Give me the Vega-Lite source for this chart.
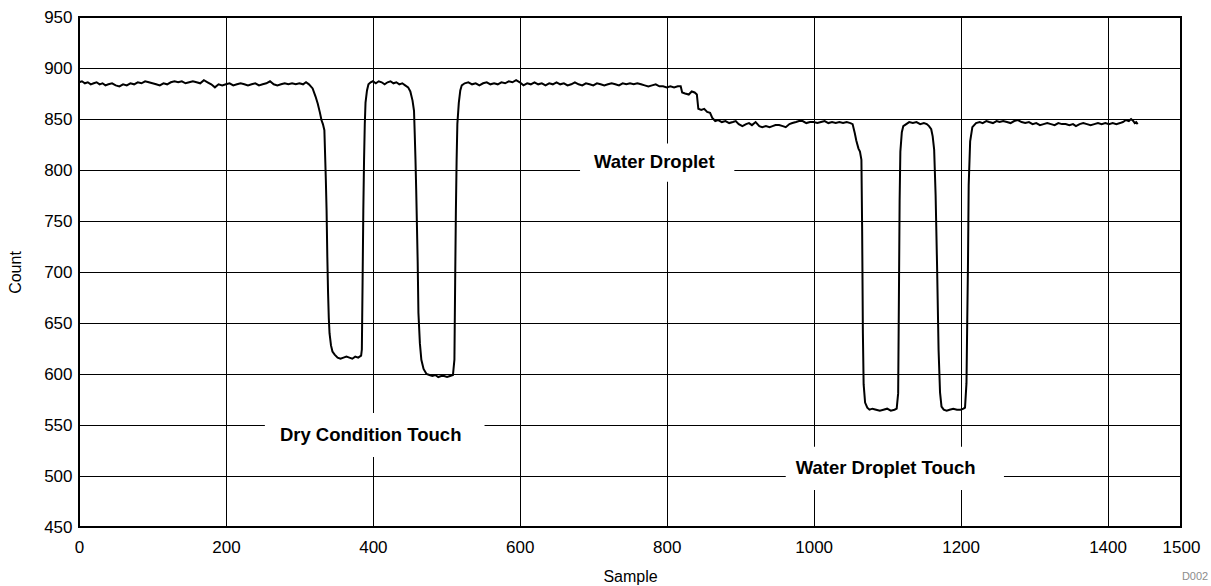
{
  "$schema": "https://vega.github.io/schema/vega-lite/v6.json",
  "width": 1102,
  "height": 510,
  "autosize": {"type": "none"},
  "padding": {"left": 79, "top": 17, "right": 30, "bottom": 59},
  "background": "#ffffff",
  "config": {
    "font": "Liberation Sans",
    "view": {"stroke": "#000000", "strokeWidth": 2},
    "axis": {
      "grid": true, "gridColor": "#000000", "gridOpacity": 1, "gridWidth": 1,
      "domain": false, "ticks": false,
      "labelColor": "#000000", "titleColor": "#000000",
      "labelFont": "Liberation Sans", "titleFont": "Liberation Sans",
      "labelFontSize": 17, "titleFontSize": 16, "titleFontWeight": "normal",
      "labelFlush": false, "labelOverlap": false
    },
    "axisX": {"labelPadding": 12, "titlePadding": 13},
    "axisY": {"labelPadding": 7, "titlePadding": 20}
  },
  "datasets": {
    "series": [
      {"sample":0,"count":886},{"sample":4,"count":887},{"sample":8,"count":885},{"sample":12,"count":886},{"sample":16,"count":884},{"sample":20,"count":885},{"sample":24,"count":886},{"sample":28,"count":884},{"sample":32,"count":885},{"sample":36,"count":883},{"sample":40,"count":884},{"sample":45,"count":885},{"sample":50,"count":883},{"sample":55,"count":882},{"sample":60,"count":884},{"sample":65,"count":883},{"sample":70,"count":885},{"sample":75,"count":884},{"sample":80,"count":886},{"sample":85,"count":885},{"sample":90,"count":887},{"sample":95,"count":886},{"sample":100,"count":885},{"sample":105,"count":884},{"sample":110,"count":883},{"sample":115,"count":885},{"sample":120,"count":884},{"sample":125,"count":886},{"sample":130,"count":887},{"sample":135,"count":886},{"sample":140,"count":887},{"sample":145,"count":885},{"sample":150,"count":886},{"sample":155,"count":887},{"sample":160,"count":886},{"sample":165,"count":885},{"sample":170,"count":888},{"sample":175,"count":886},{"sample":180,"count":884},{"sample":185,"count":881},{"sample":190,"count":884},{"sample":195,"count":883},{"sample":200,"count":884},{"sample":205,"count":885},{"sample":210,"count":883},{"sample":215,"count":884},{"sample":220,"count":885},{"sample":225,"count":884},{"sample":230,"count":883},{"sample":235,"count":884},{"sample":240,"count":885},{"sample":245,"count":883},{"sample":250,"count":884},{"sample":255,"count":885},{"sample":260,"count":887},{"sample":265,"count":884},{"sample":270,"count":883},{"sample":275,"count":884},{"sample":280,"count":885},{"sample":285,"count":884},{"sample":290,"count":885},{"sample":295,"count":884},{"sample":300,"count":885},{"sample":305,"count":884},{"sample":309,"count":886},{"sample":313,"count":884},{"sample":318,"count":880},{"sample":322,"count":872},{"sample":325,"count":865},{"sample":328,"count":856},{"sample":330,"count":849},{"sample":332,"count":845},{"sample":334,"count":839},{"sample":336,"count":790},{"sample":337,"count":760},{"sample":338,"count":715},{"sample":339,"count":680},{"sample":340,"count":655},{"sample":341,"count":640},{"sample":343,"count":628},{"sample":345,"count":622},{"sample":348,"count":619},{"sample":352,"count":616},{"sample":356,"count":615},{"sample":360,"count":616},{"sample":364,"count":617},{"sample":368,"count":616},{"sample":372,"count":615},{"sample":376,"count":617},{"sample":380,"count":616},{"sample":384,"count":618},{"sample":385,"count":624},{"sample":386,"count":690},{"sample":387,"count":760},{"sample":388,"count":810},{"sample":389,"count":845},{"sample":390,"count":866},{"sample":392,"count":878},{"sample":394,"count":884},{"sample":397,"count":886},{"sample":400,"count":887},{"sample":404,"count":885},{"sample":408,"count":887},{"sample":412,"count":886},{"sample":416,"count":884},{"sample":420,"count":886},{"sample":424,"count":887},{"sample":428,"count":885},{"sample":432,"count":886},{"sample":436,"count":884},{"sample":440,"count":885},{"sample":444,"count":883},{"sample":448,"count":881},{"sample":451,"count":877},{"sample":454,"count":868},{"sample":456,"count":858},{"sample":457,"count":835},{"sample":458,"count":810},{"sample":459,"count":780},{"sample":460,"count":745},{"sample":461,"count":710},{"sample":462,"count":660},{"sample":464,"count":630},{"sample":466,"count":614},{"sample":469,"count":605},{"sample":473,"count":600},{"sample":477,"count":599},{"sample":481,"count":598},{"sample":485,"count":599},{"sample":489,"count":597},{"sample":493,"count":598},{"sample":497,"count":598},{"sample":501,"count":597},{"sample":505,"count":598},{"sample":509,"count":599},{"sample":511,"count":614},{"sample":512,"count":690},{"sample":513,"count":760},{"sample":514,"count":810},{"sample":515,"count":845},{"sample":517,"count":866},{"sample":519,"count":878},{"sample":521,"count":883},{"sample":525,"count":885},{"sample":530,"count":886},{"sample":535,"count":884},{"sample":540,"count":885},{"sample":545,"count":883},{"sample":550,"count":885},{"sample":555,"count":886},{"sample":560,"count":884},{"sample":565,"count":885},{"sample":570,"count":884},{"sample":575,"count":886},{"sample":580,"count":885},{"sample":585,"count":887},{"sample":590,"count":886},{"sample":595,"count":888},{"sample":600,"count":886},{"sample":605,"count":883},{"sample":610,"count":885},{"sample":615,"count":884},{"sample":620,"count":886},{"sample":625,"count":884},{"sample":630,"count":885},{"sample":635,"count":883},{"sample":640,"count":885},{"sample":645,"count":884},{"sample":650,"count":886},{"sample":655,"count":884},{"sample":660,"count":885},{"sample":665,"count":883},{"sample":670,"count":884},{"sample":675,"count":886},{"sample":680,"count":884},{"sample":685,"count":883},{"sample":690,"count":885},{"sample":695,"count":884},{"sample":700,"count":883},{"sample":705,"count":885},{"sample":710,"count":884},{"sample":715,"count":883},{"sample":720,"count":884},{"sample":725,"count":885},{"sample":730,"count":884},{"sample":735,"count":883},{"sample":740,"count":885},{"sample":745,"count":884},{"sample":750,"count":885},{"sample":755,"count":884},{"sample":760,"count":885},{"sample":765,"count":884},{"sample":770,"count":883},{"sample":775,"count":882},{"sample":780,"count":883},{"sample":785,"count":884},{"sample":790,"count":882},{"sample":795,"count":882},{"sample":800,"count":881},{"sample":805,"count":882},{"sample":810,"count":881},{"sample":815,"count":882},{"sample":819,"count":882},{"sample":821,"count":876},{"sample":825,"count":875},{"sample":830,"count":874},{"sample":834,"count":877},{"sample":838,"count":876},{"sample":841,"count":874},{"sample":843,"count":860},{"sample":847,"count":859},{"sample":851,"count":860},{"sample":855,"count":857},{"sample":859,"count":856},{"sample":862,"count":851},{"sample":866,"count":848},{"sample":870,"count":849},{"sample":875,"count":847},{"sample":880,"count":848},{"sample":885,"count":846},{"sample":890,"count":847},{"sample":894,"count":848},{"sample":898,"count":845},{"sample":903,"count":843},{"sample":908,"count":845},{"sample":912,"count":846},{"sample":916,"count":844},{"sample":921,"count":847},{"sample":926,"count":843},{"sample":930,"count":842},{"sample":935,"count":843},{"sample":940,"count":842},{"sample":944,"count":843},{"sample":948,"count":844},{"sample":953,"count":844},{"sample":958,"count":843},{"sample":962,"count":842},{"sample":967,"count":845},{"sample":971,"count":846},{"sample":976,"count":847},{"sample":980,"count":848},{"sample":985,"count":848},{"sample":990,"count":846},{"sample":995,"count":847},{"sample":1000,"count":847},{"sample":1005,"count":846},{"sample":1010,"count":847},{"sample":1015,"count":848},{"sample":1020,"count":846},{"sample":1025,"count":847},{"sample":1030,"count":846},{"sample":1035,"count":847},{"sample":1040,"count":846},{"sample":1045,"count":847},{"sample":1050,"count":846},{"sample":1053,"count":845},{"sample":1056,"count":836},{"sample":1058,"count":829},{"sample":1061,"count":821},{"sample":1063,"count":818},{"sample":1065,"count":810},{"sample":1066,"count":740},{"sample":1067,"count":640},{"sample":1068,"count":590},{"sample":1070,"count":572},{"sample":1073,"count":567},{"sample":1076,"count":565},{"sample":1080,"count":566},{"sample":1085,"count":565},{"sample":1090,"count":564},{"sample":1095,"count":565},{"sample":1100,"count":566},{"sample":1105,"count":564},{"sample":1110,"count":565},{"sample":1113,"count":566},{"sample":1115,"count":581},{"sample":1116,"count":672},{"sample":1117,"count":770},{"sample":1118,"count":818},{"sample":1120,"count":837},{"sample":1122,"count":843},{"sample":1126,"count":845},{"sample":1130,"count":847},{"sample":1135,"count":846},{"sample":1140,"count":847},{"sample":1145,"count":845},{"sample":1150,"count":846},{"sample":1154,"count":845},{"sample":1157,"count":843},{"sample":1160,"count":840},{"sample":1162,"count":833},{"sample":1164,"count":820},{"sample":1166,"count":775},{"sample":1168,"count":705},{"sample":1170,"count":624},{"sample":1172,"count":582},{"sample":1174,"count":568},{"sample":1177,"count":565},{"sample":1181,"count":564},{"sample":1185,"count":565},{"sample":1190,"count":566},{"sample":1195,"count":565},{"sample":1200,"count":565},{"sample":1204,"count":566},{"sample":1206,"count":567},{"sample":1208,"count":591},{"sample":1209,"count":650},{"sample":1210,"count":705},{"sample":1211,"count":785},{"sample":1213,"count":828},{"sample":1216,"count":842},{"sample":1221,"count":846},{"sample":1226,"count":847},{"sample":1230,"count":846},{"sample":1235,"count":848},{"sample":1239,"count":847},{"sample":1244,"count":846},{"sample":1249,"count":848},{"sample":1253,"count":847},{"sample":1258,"count":848},{"sample":1263,"count":847},{"sample":1268,"count":846},{"sample":1273,"count":848},{"sample":1278,"count":849},{"sample":1283,"count":847},{"sample":1288,"count":846},{"sample":1293,"count":847},{"sample":1298,"count":845},{"sample":1303,"count":846},{"sample":1308,"count":844},{"sample":1313,"count":845},{"sample":1318,"count":846},{"sample":1323,"count":845},{"sample":1328,"count":844},{"sample":1333,"count":846},{"sample":1338,"count":845},{"sample":1343,"count":845},{"sample":1348,"count":844},{"sample":1353,"count":845},{"sample":1357,"count":843},{"sample":1362,"count":845},{"sample":1367,"count":846},{"sample":1372,"count":845},{"sample":1377,"count":844},{"sample":1382,"count":845},{"sample":1387,"count":846},{"sample":1392,"count":845},{"sample":1397,"count":846},{"sample":1402,"count":845},{"sample":1407,"count":846},{"sample":1412,"count":845},{"sample":1417,"count":846},{"sample":1421,"count":847},{"sample":1425,"count":849},{"sample":1429,"count":848},{"sample":1432,"count":850},{"sample":1435,"count":848},{"sample":1437,"count":846},{"sample":1439,"count":847},{"sample":1441,"count":845}
    ],
    "notes": [
      {"label":"Dry Condition Touch","sample":397,"count":540,"x1":253,"x2":552,"y1":518.6,"y2":561.8},
      {"label":"Water Droplet","sample":783,"count":808,"x1":682,"x2":892,"y1":788.5,"y2":826},
      {"label":"Water Droplet Touch","sample":1098,"count":508,"x1":962,"x2":1259,"y1":486.3,"y2":528.7}
    ],
    "code": [
      {"label":"D002","sample":1537,"count":401}
    ]
  },
  "layer": [
    {
      "data": {"name": "series"},
      "mark": {"type": "line", "color": "#000000", "strokeWidth": 2},
      "encoding": {
        "x": {"field": "sample", "type": "quantitative", "title": "Sample",
          "scale": {"domain": [0, 1500], "nice": false, "zero": false},
          "axis": {"values": [0,200,400,600,800,1000,1200,1400,1500], "format": "d"}},
        "y": {"field": "count", "type": "quantitative", "title": "Count",
          "scale": {"domain": [450, 950], "nice": false, "zero": false},
          "axis": {"values": [450,500,550,600,650,700,750,800,850,900,950], "format": "d"}}
      }
    },
    {
      "data": {"name": "notes"},
      "mark": {"type": "rect", "fill": "#ffffff"},
      "encoding": {
        "x": {"field": "x1", "type": "quantitative", "title": "Sample",
          "axis": {"values": [0,200,400,600,800,1000,1200,1400,1500], "format": "d"}},
        "x2": {"field": "x2"},
        "y": {"field": "y1", "type": "quantitative", "title": "Count",
          "axis": {"values": [450,500,550,600,650,700,750,800,850,900,950], "format": "d"}},
        "y2": {"field": "y2"}
      }
    },
    {
      "data": {"name": "notes"},
      "mark": {"type": "text", "fontWeight": "bold", "fontSize": 18.5, "color": "#000000", "baseline": "middle", "align": "center", "font": "Liberation Sans"},
      "encoding": {
        "x": {"field": "sample", "type": "quantitative", "title": "Sample",
          "axis": {"values": [0,200,400,600,800,1000,1200,1400,1500], "format": "d"}},
        "y": {"field": "count", "type": "quantitative", "title": "Count",
          "axis": {"values": [450,500,550,600,650,700,750,800,850,900,950], "format": "d"}},
        "text": {"field": "label"}
      }
    },
    {
      "data": {"name": "code"},
      "mark": {"type": "text", "fontSize": 11, "color": "#8c8c8c", "baseline": "middle", "align": "right", "font": "Liberation Sans"},
      "encoding": {
        "x": {"field": "sample", "type": "quantitative", "title": "Sample",
          "axis": {"values": [0,200,400,600,800,1000,1200,1400,1500], "format": "d"}},
        "y": {"field": "count", "type": "quantitative", "title": "Count",
          "axis": {"values": [450,500,550,600,650,700,750,800,850,900,950], "format": "d"}},
        "text": {"field": "label"}
      }
    }
  ]
}
